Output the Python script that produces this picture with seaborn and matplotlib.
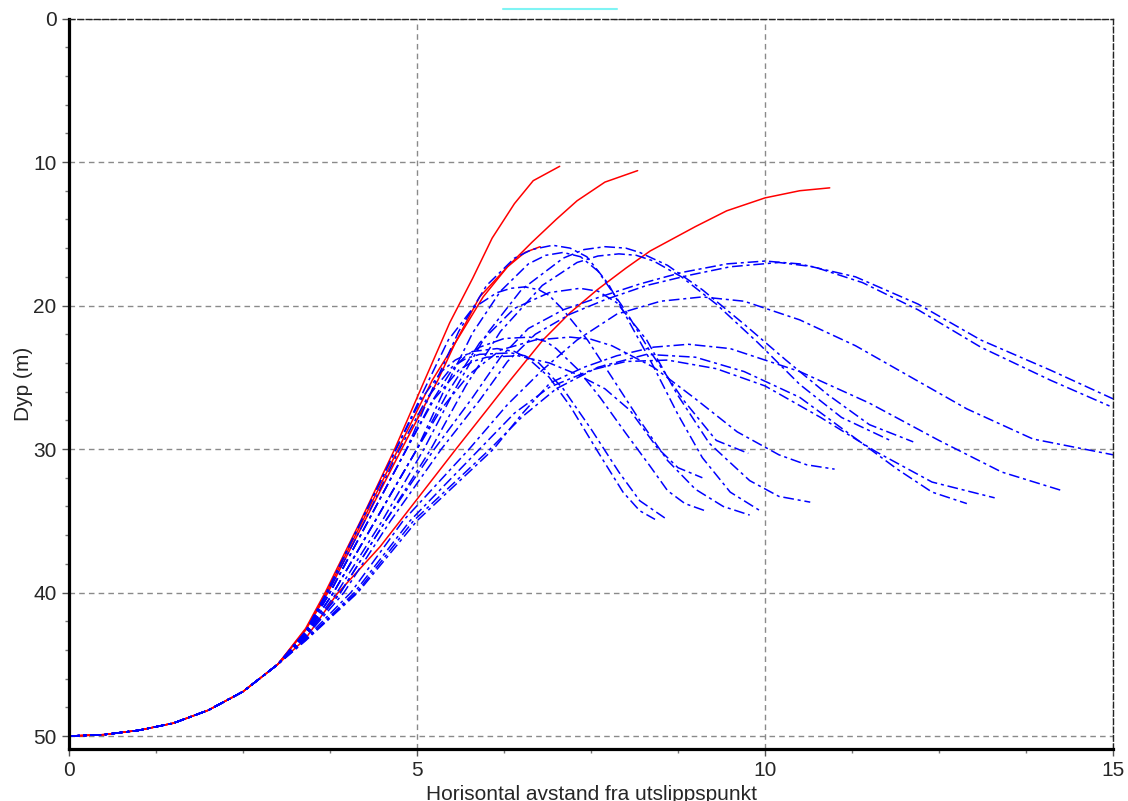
import numpy as np
import pandas as pd
import matplotlib
matplotlib.use("Agg")
import matplotlib.pyplot as plt
import seaborn as sns
from matplotlib.lines import Line2D

# ---------------- data (x = horizontal distance, y = depth) ----------------
start = [(0.0, 50.0), (0.5, 49.9), (1.0, 49.6), (1.5, 49.1), (2.0, 48.2),
         (2.5, 46.9), (3.0, 45.0)]

red_1 = [(3.4, 42.5), (3.68, 40.0), (4.2, 34.9), (4.68, 30.0), (5.11, 25.2),
         (5.47, 21.2), (5.8, 18.1), (6.08, 15.3), (6.4, 12.9), (6.67, 11.3),
         (7.05, 10.3)]
red_2 = [(3.4, 42.6), (3.7, 40.0), (4.22, 35.0), (4.73, 30.0), (5.22, 25.2),
         (5.5, 23.0), (5.95, 19.4), (6.3, 17.3), (6.65, 15.6), (7.0, 14.0),
         (7.3, 12.7), (7.7, 11.4), (8.17, 10.6)]
red_3 = [(3.4, 43.2), (3.85, 40.1), (4.47, 36.8), (5.0, 33.5), (5.56, 30.0),
         (6.0, 27.3), (6.34, 25.2), (6.81, 22.4), (7.2, 20.5), (7.59, 18.9),
         (8.0, 17.4), (8.35, 16.2), (9.0, 14.5), (9.45, 13.4), (10.0, 12.5),
         (10.5, 12.0), (10.93, 11.8)]
red_4 = [(3.4, 42.6), (3.72, 40.0), (4.25, 35.0), (4.78, 30.0), (5.3, 25.2),
         (5.55, 22.6), (5.9, 19.4), (6.3, 17.3), (6.55, 16.3), (6.77, 15.9)]

blue_01 = [(3.4, 42.7), (3.7, 40.0), (4.2, 35.0), (4.7, 30.0), (5.05, 26.6),
           (5.35, 24.6), (5.55, 23.8), (5.8, 23.2), (6.15, 23.0), (6.4, 23.2),
           (6.6, 23.7), (6.9, 25.0), (7.2, 27.0), (7.6, 30.2), (7.96, 33.0),
           (8.2, 34.3), (8.42, 34.9)]
blue_02 = [(3.4, 42.75), (3.72, 40.0), (4.25, 35.0), (4.75, 30.0), (5.15, 26.4),
           (5.5, 24.3), (5.7, 23.7), (5.9, 23.4), (6.35, 23.3), (6.55, 23.5),
           (6.75, 24.0), (7.1, 25.8), (7.5, 28.6), (7.9, 31.6), (8.2, 33.6),
           (8.56, 34.8)]
blue_03 = [(3.4, 42.8), (3.75, 40.0), (4.3, 35.0), (4.85, 30.0), (5.25, 26.5),
           (5.6, 24.5), (5.8, 23.9), (6.0, 23.6), (6.45, 23.5), (6.9, 24.0),
           (7.3, 24.8), (7.7, 25.8), (8.06, 27.3), (8.45, 29.9), (8.75, 31.3),
           (9.1, 32.0)]
blue_04 = [(3.4, 42.8), (3.75, 40.0), (4.3, 35.0), (4.85, 30.0), (5.2, 26.8),
           (5.5, 24.5), (5.7, 23.5), (5.9, 22.9), (6.25, 22.3), (6.62, 22.2),
           (6.85, 22.5), (7.0, 23.0), (7.3, 24.4), (7.63, 26.4), (8.0, 28.9),
           (8.35, 31.2), (8.6, 32.9), (8.85, 33.8), (9.14, 34.3)]
blue_05 = [(3.4, 42.9), (3.8, 40.0), (4.4, 35.0), (5.0, 30.0), (5.35, 27.2),
           (5.75, 24.8), (6.2, 23.1), (6.7, 22.4), (7.2, 22.2), (7.5, 22.35),
           (7.8, 22.8), (8.4, 24.3), (9.0, 26.5), (9.6, 28.8), (10.2, 30.4),
           (10.6, 31.1), (11.0, 31.4)]
blue_06 = [(3.4, 42.7), (3.7, 40.0), (4.2, 35.0), (4.7, 30.0), (5.1, 25.9),
           (5.45, 22.4), (5.8, 20.2), (6.15, 19.1), (6.35, 18.8), (6.55, 18.7),
           (6.75, 18.9), (6.9, 19.3), (7.1, 20.3), (7.45, 22.4), (7.8, 25.0),
           (8.2, 28.0), (8.6, 30.8), (9.0, 32.8), (9.4, 34.0), (9.78, 34.6)]
blue_07 = [(3.4, 42.8), (3.75, 40.0), (4.3, 35.0), (4.85, 30.0), (5.25, 25.5),
           (5.6, 21.8), (6.0, 18.6), (6.4, 16.7), (6.65, 16.1), (6.95, 15.8),
           (7.2, 16.0), (7.44, 16.6), (7.75, 18.5), (8.1, 21.6), (8.35, 23.8),
           (8.75, 27.6), (9.1, 30.6), (9.5, 33.0), (9.93, 34.3)]
blue_08 = [(3.4, 42.9), (3.8, 40.0), (4.4, 35.0), (5.0, 30.0), (5.4, 25.8),
           (5.8, 21.9), (6.2, 19.0), (6.6, 17.1), (6.85, 16.5), (7.1, 16.3),
           (7.35, 16.6), (7.6, 17.6), (8.0, 20.4), (8.35, 23.2), (8.83, 26.6),
           (9.3, 29.4), (9.76, 30.3)]
blue_09 = [(3.4, 42.9), (3.8, 40.0), (4.4, 35.0), (5.0, 30.0), (5.45, 26.0),
           (5.9, 22.6), (6.4, 20.2), (6.9, 19.1), (7.34, 18.8), (7.6, 19.0),
           (7.87, 19.8), (8.3, 22.4), (8.74, 26.2), (9.2, 29.6), (9.78, 32.2),
           (10.2, 33.3), (10.65, 33.7)]
blue_10 = [(3.4, 42.95), (3.85, 40.0), (4.5, 35.0), (5.1, 30.0), (5.55, 25.8),
           (6.0, 22.0), (6.5, 18.9), (7.1, 16.7), (7.4, 16.1), (7.7, 15.9),
           (8.0, 16.0), (8.2, 16.3), (8.6, 17.2), (9.1, 18.9), (9.7, 21.3),
           (10.3, 23.8), (10.9, 26.2), (11.5, 28.3), (12.13, 29.5)]
blue_11 = [(3.4, 43.0), (3.9, 40.0), (4.55, 35.0), (5.2, 30.0), (5.7, 25.6),
           (6.2, 21.8), (6.8, 18.6), (7.3, 17.0), (7.6, 16.55), (7.9, 16.4),
           (8.15, 16.5), (8.4, 16.9), (8.8, 18.0), (9.3, 19.9), (9.9, 22.6),
           (10.5, 25.5), (11.1, 27.8), (11.8, 29.4)]
blue_12 = [(3.4, 43.0), (3.9, 40.0), (4.55, 35.0), (5.25, 30.0), (5.8, 26.4),
           (6.2, 23.6), (6.6, 21.6), (7.1, 20.3), (7.63, 19.4), (8.2, 18.5),
           (8.8, 17.7), (9.45, 17.1), (10.0, 16.9), (10.5, 17.1), (11.3, 18.0),
           (12.2, 19.9), (13.1, 22.4), (14.1, 24.5), (15.0, 26.5)]
blue_13 = [(3.4, 43.1), (3.95, 40.0), (4.62, 35.0), (5.35, 30.0), (5.9, 26.6),
           (6.3, 23.9), (6.7, 22.0), (7.2, 20.6), (7.7, 19.6), (8.3, 18.6),
           (8.9, 17.9), (9.5, 17.3), (10.2, 17.0), (10.7, 17.3), (11.4, 18.4),
           (12.2, 20.3), (13.1, 22.9), (14.1, 25.2), (14.95, 27.0)]
blue_14 = [(3.4, 43.2), (4.05, 40.0), (4.8, 35.0), (5.75, 30.0), (6.3, 26.9),
           (6.8, 24.5), (7.3, 22.4), (7.87, 20.6), (8.5, 19.7), (9.1, 19.4),
           (9.7, 19.7), (10.5, 21.0), (11.3, 22.8), (12.1, 25.0), (12.9, 27.2),
           (13.85, 29.3), (15.0, 30.4)]
blue_15 = [(3.4, 43.3), (4.13, 40.0), (4.95, 35.0), (6.05, 30.0), (6.5, 27.8),
           (7.0, 25.8), (7.6, 24.3), (8.3, 23.4), (9.0, 23.6), (9.7, 24.6),
           (10.5, 26.4), (11.2, 28.9), (11.9, 31.4), (12.4, 33.0), (12.9, 33.8)]
blue_16 = [(3.4, 43.35), (4.15, 40.0), (5.0, 35.0), (6.1, 30.0), (6.5, 27.6),
           (6.91, 25.4), (7.4, 24.3), (7.87, 23.5), (8.4, 22.9), (8.9, 22.7),
           (9.5, 23.0), (10.5, 24.6), (11.5, 26.8), (12.5, 29.4), (13.4, 31.6),
           (14.27, 32.9)]
blue_17 = [(3.4, 43.3), (4.1, 40.0), (4.9, 35.0), (5.9, 30.0), (6.4, 27.5),
           (6.9, 25.7), (7.5, 24.5), (8.0, 23.9), (8.6, 23.8), (9.3, 24.4),
           (10.0, 25.6), (10.8, 27.8), (11.6, 30.2), (12.4, 32.3), (13.3, 33.4)]

red_curves = [red_1, red_2, red_3, red_4]
blue_curves = [blue_01, blue_02, blue_03, blue_04, blue_05, blue_06, blue_07,
               blue_08, blue_09, blue_10, blue_11, blue_12, blue_13, blue_14,
               blue_15, blue_16, blue_17]

x_major = [0, 5, 10, 15]
y_major = [0, 10, 20, 30, 40, 50]
x_label = "Horisontal avstand fra utslippspunkt"
y_label = "Dyp (m)"


def to_frame(curves):
    rows = []
    for i, pts in enumerate(curves):
        for x, y in start + pts:
            rows.append({"curve": i, "x": x, "depth": y})
    return pd.DataFrame(rows)


df_blue = to_frame(blue_curves)
df_red = to_frame(red_curves)

# ---------------- figure ----------------
sns.set_style("white")
plt.rcParams["font.family"] = ["Liberation Sans", "DejaVu Sans"]

fig = plt.figure(figsize=(11.28, 8.01), dpi=100)
ax = fig.add_axes([69 / 1128, 52 / 801, (1113 - 69) / 1128, (749 - 18.5) / 801])

sns.lineplot(data=df_red, x="x", y="depth", units="curve", estimator=None,
             sort=False, color="#ff0000", lw=1.1, ax=ax, legend=False)
sns.lineplot(data=df_blue, x="x", y="depth", units="curve", estimator=None,
             sort=False, color="#0000ff", lw=1.1,
             linestyle=(0, (7, 2.5, 2, 2.5)), ax=ax, legend=False)

ax.set_xlim(0, 15)
ax.set_ylim(50.9, 0)
ax.set_xticks(x_major)
ax.set_xticks(np.arange(0, 15.01, 1.25), minor=True)
ax.set_yticks(y_major)
ax.set_yticks(np.arange(0, 50.9, 2), minor=True)
ax.grid(True, which="major", color="#8a8a8a", linestyle=(0, (4, 3)), lw=1.0)
ax.set_axisbelow(True)

for side in ("left", "bottom"):
    ax.spines[side].set_linewidth(2.3)
    ax.spines[side].set_color("black")
for side in ("top", "right"):
    ax.spines[side].set_linewidth(1.0)
    ax.spines[side].set_color("#222222")
    ax.spines[side].set_linestyle((0, (4, 2)))

ax.tick_params(which="major", direction="out", length=5, width=1,
               color="#555555", labelsize=15, pad=4)
ax.tick_params(which="minor", direction="out", length=3, width=1,
               color="#777777")
ax.tick_params(axis="x", which="both", bottom=True, top=False)
ax.tick_params(axis="y", which="both", left=True, right=False)

ax.set_xlabel(x_label, fontsize=15, labelpad=3)
ax.set_ylabel(y_label, fontsize=15, labelpad=0)

# small cyan stroke above the plot area (as in the original screen capture)
fig.add_artist(Line2D([503 / 1128, 617 / 1128], [1 - 9 / 801, 1 - 9 / 801],
                      transform=fig.transFigure, color="#7ff4f4", lw=1.5))

fig.savefig("out.png", dpi=100)
